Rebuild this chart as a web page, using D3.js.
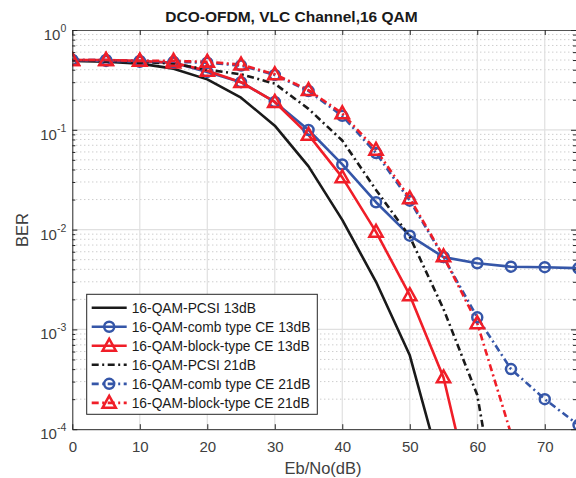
<!DOCTYPE html>
<html><head><meta charset="utf-8">
<script src="https://cdn.jsdelivr.net/npm/d3@7"></script>
<style>
body{margin:0;background:#fff;}
svg{display:block;font-family:"Liberation Sans",Arial,Helvetica,sans-serif;}
</style></head>
<body><svg id="c" width="576" height="478"></svg>
<script>
const ebno = [0,5,10,15,20,25,30,35,40,45,50,55,60,65,70,75];
const xTicks = [0,10,20,30,40,50,60,70];
const yTicks = [1,0.1,0.01,0.001,0.0001];
const yTickExp = ["0","-1","-2","-3","-4"];
const pcsi13  = [0.49,0.48,0.46,0.41,0.32,0.21,0.11,0.043,0.0125,0.003,0.00055,0.000032];
const comb13  = [0.5,0.49,0.48,0.47,0.38,0.30,0.19,0.0995,0.045,0.0188,0.0087,0.0053,0.0046,0.00425,0.0042,0.0041];
const block13 = [0.5,0.5,0.49,0.47,0.39,0.30,0.19,0.089,0.0334,0.0095,0.0022,0.00033,0.000012];
const pcsi21  = [0.5,0.49,0.48,0.46,0.40,0.36,0.29,0.162,0.078,0.025,0.0085,0.0016,0.00022,0.0000025];
const comb21  = [0.5,0.5,0.49,0.48,0.47,0.44,0.355,0.245,0.138,0.0585,0.0195,0.0053,0.00132,0.0004,0.0002,0.00011];
const block21 = [0.5,0.5,0.49,0.49,0.48,0.45,0.36,0.25,0.146,0.063,0.0206,0.0054,0.00115,0.00009];
const labels = ["16-QAM-PCSI 13dB","16-QAM-comb type CE 13dB","16-QAM-block-type CE 13dB",
                "16-QAM-PCSI 21dB","16-QAM-comb type CE 21dB","16-QAM-block-type CE 21dB"];

const BLACK="#1a1a1a", BLUE="#3556a8", RED="#f01e28";
const DASHDOT="7,3.5,2,3.5";
const series = [
  {vals:pcsi13, color:BLACK, dash:null, marker:null},
  {vals:comb13, color:BLUE, dash:null, marker:"circle"},
  {vals:block13, color:RED, dash:null, marker:"tri"},
  {vals:pcsi21, color:BLACK, dash:DASHDOT, marker:null},
  {vals:comb21, color:BLUE, dash:DASHDOT, marker:"circle"},
  {vals:block21, color:RED, dash:DASHDOT, marker:"tri"}
];

const L=72.3, R=578.5, T=30, B=429.2;
const x = d3.scaleLinear().domain([0,75]).range([L,R]);
const y = d3.scaleLog().domain([1e-4,1]).range([B,T]);
const svg = d3.select("#c");
const AX="#262626";

// minor values
const minor=[];
for(let e=-4;e<0;e++) for(let m=2;m<=9;m++) minor.push(m*Math.pow(10,e));

// grid
const grid = svg.append("g");
grid.selectAll(".mn").data(minor).join("line")
  .attr("x1",L).attr("x2",R).attr("y1",d=>y(d)).attr("y2",d=>y(d))
  .attr("stroke","#b8b8b8").attr("stroke-width",1).attr("stroke-dasharray","1,3");
grid.selectAll(".vx").data(xTicks.slice(1)).join("line")
  .attr("x1",d=>x(d)).attr("x2",d=>x(d)).attr("y1",T).attr("y2",B)
  .attr("stroke","#e0e0e0").attr("stroke-width",1.2);
grid.selectAll(".hy").data(yTicks.slice(1,4)).join("line")
  .attr("x1",L).attr("x2",R).attr("y1",d=>y(d)).attr("y2",d=>y(d))
  .attr("stroke","#e0e0e0").attr("stroke-width",1.2);

// clip
svg.append("defs").append("clipPath").attr("id","clip")
  .append("rect").attr("x",L).attr("y",T).attr("width",R-L).attr("height",B-T);

const plot = svg.append("g").attr("clip-path","url(#clip)");
const line = d3.line().x((d,i)=>x(ebno[i])).y(d=>y(Math.max(d,1e-7)));
const triPath = s => `M0,${-s}L${s*0.95},${s*0.7}L${-s*0.95},${s*0.7}Z`;

function drawMarker(g, type, color){
  if(type==="circle"){
    g.append("circle").attr("r",5).attr("fill","none").attr("stroke",color).attr("stroke-width",2.5);
  } else if(type==="tri"){
    g.append("path").attr("d",triPath(7)).attr("fill","none").attr("stroke",color)
      .attr("stroke-width",2.5).attr("stroke-linejoin","miter");
  }
}

series.forEach(s=>{
  plot.append("path").datum(s.vals).attr("d",line).attr("fill","none")
    .attr("stroke",s.color).attr("stroke-width",2.6)
    .attr("stroke-dasharray",s.dash).attr("stroke-linejoin","round");
});
series.forEach(s=>{
  if(!s.marker) return;
  s.vals.forEach((v,i)=>{
    if(v<1e-4) return;
    const g = plot.append("g").attr("transform",`translate(${x(ebno[i])},${y(v)})`);
    drawMarker(g,s.marker,s.color);
  });
});

// axes
function style(g){ g.selectAll(".domain").attr("stroke",AX).attr("stroke-width",1);
  g.selectAll(".tick line").attr("stroke",AX); }
const xa = svg.append("g").attr("transform",`translate(0,${B})`)
  .call(d3.axisBottom(x).tickValues(xTicks).tickSize(-5).tickPadding(12).tickSizeOuter(0));
style(xa);
xa.selectAll("text").attr("font-size",15).attr("fill","#404040").attr("font-family","Liberation Sans, Arial, sans-serif");
const xt = svg.append("g").attr("transform",`translate(0,${T})`)
  .call(d3.axisTop(x).tickValues(xTicks).tickSize(-5).tickFormat("").tickSizeOuter(0));
style(xt); xt.select(".domain").attr("stroke","#555");

const ya = svg.append("g").attr("transform",`translate(${L},0)`)
  .call(d3.axisLeft(y).tickValues(yTicks).tickSize(-5).tickFormat("").tickSizeOuter(0));
style(ya);
ya.selectAll(".tick").append("text").attr("fill","#404040").attr("text-anchor","end")
  .attr("font-family","Liberation Sans, Arial, sans-serif")
  .each(function(d,i){
    const t=d3.select(this).attr("x",-6).attr("y",9.5);
    t.append("tspan").attr("font-size",15).text("10");
    t.append("tspan").attr("font-size",10.5).attr("dy",-8).text(yTickExp[i]);
  });
const ym = svg.append("g").attr("transform",`translate(${L},0)`)
  .call(d3.axisLeft(y).tickValues(minor).tickSize(-3).tickFormat("").tickSizeOuter(0));
style(ym); ym.select(".domain").remove();
const yr = svg.append("g").attr("transform",`translate(${R-2.5},0)`)
  .call(d3.axisRight(y).tickValues(yTicks).tickSize(-5).tickFormat("").tickSizeOuter(0));
style(yr);
const yrm = svg.append("g").attr("transform",`translate(${R-2.5},0)`)
  .call(d3.axisRight(y).tickValues(minor).tickSize(-3).tickFormat("").tickSizeOuter(0));
style(yrm); yrm.select(".domain").remove();

// labels
svg.append("text").attr("x",291.5).attr("y",22).attr("text-anchor","middle")
  .attr("font-size",15.5).attr("font-weight","bold").attr("fill","#1a1a1a")
  .text("DCO-OFDM, VLC Channel,16 QAM");
svg.append("text").attr("x",323).attr("y",474).attr("text-anchor","middle")
  .attr("font-size",16.5).attr("fill","#404040").text("Eb/No(dB)");
svg.append("text").attr("transform","translate(27.5,230) rotate(-90)").attr("text-anchor","middle")
  .attr("font-size",16.5).attr("fill","#404040").text("BER");

// legend
const lg = svg.append("g");
lg.append("rect").attr("x",86.7).attr("y",294.3).attr("width",230.6).attr("height",120)
  .attr("fill","#fff").attr("stroke","#262626").attr("stroke-width",1);
const rowY = d3.scaleLinear().domain([0,5]).range([307.7,402.9]);
series.forEach((s,i)=>{
  const yy=rowY(i);
  lg.append("line").attr("x1",91.7).attr("x2",126.7).attr("y1",yy).attr("y2",yy)
    .attr("stroke",s.color).attr("stroke-width",2.6).attr("stroke-dasharray",s.dash);
  if(s.marker){ const g=lg.append("g").attr("transform",`translate(109.2,${yy})`); drawMarker(g,s.marker,s.color); }
  lg.append("text").attr("x",131.7).attr("y",yy+5).attr("font-size",13.8).attr("fill","#1a1a1a").text(labels[i]);
});
</script></body></html>
